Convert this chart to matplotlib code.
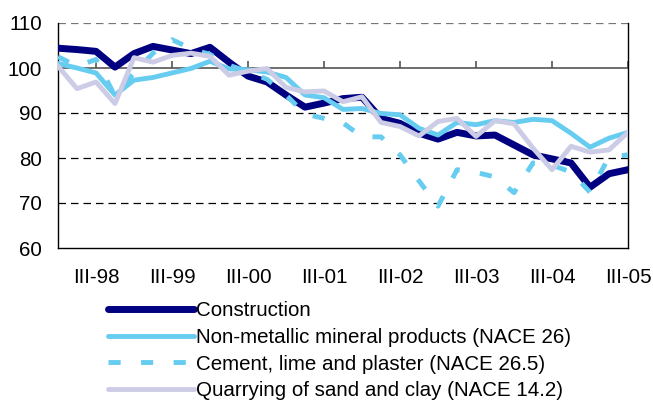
import matplotlib
matplotlib.use("Agg")
import matplotlib.pyplot as plt
from matplotlib.lines import Line2D

plt.rcParams['font.family'] = ['Liberation Sans', 'DejaVu Sans']

# Quarterly indices, I-98 .. III-05
construction = [104.4, 104.1, 103.7, 100.2, 103.2, 104.8, 104.0, 103.2, 104.6, 101.3,
                98.2, 96.9, 94.0, 91.3, 92.2, 93.2, 93.5, 88.8, 87.7, 85.5,
                84.2, 85.7, 84.9, 85.1, 82.9, 80.7, 79.8, 78.9, 73.5, 76.5, 77.4]
non_metallic = [101.0, 100.0, 98.9, 94.0, 97.3, 97.9, 98.9, 99.9, 101.5, 99.8,
                99.6, 99.1, 97.9, 94.0, 93.4, 90.8, 91.0, 89.9, 89.6, 86.6,
                85.1, 87.9, 87.4, 88.3, 87.9, 88.6, 88.3, 85.5, 82.4, 84.4, 85.7]
cement = [102.5, 100.4, 101.9, 93.8, 98.9, 103.3, 106.3, 104.3, 103.0, 100.6,
          99.2, 97.5, 94.0, 89.8, 88.8, 87.8, 84.7, 84.7, 80.7, 74.9,
          69.3, 77.4, 76.8, 75.8, 72.3, 78.9, 78.4, 76.9, 72.4, 80.2, 80.7]
quarrying = [100.4, 95.4, 96.9, 92.1, 102.3, 101.3, 102.8, 103.3, 102.6, 98.4,
             99.3, 99.9, 95.7, 94.7, 94.9, 92.5, 93.6, 87.9, 87.0, 84.9,
             88.1, 88.8, 84.8, 88.3, 87.6, 82.2, 77.4, 82.6, 81.3, 81.8, 85.7]

tick_labels = ['III-98', 'III-99', 'III-00', 'III-01', 'III-02', 'III-03', 'III-04', 'III-05']
series_names = ['Construction', 'Non-metallic mineral products (NACE 26)',
                'Cement, lime and plaster (NACE 26.5)', 'Quarrying of sand and clay (NACE 14.2)']

NAVY = '#000080'
SKY = '#66CCF0'
LAVENDER = '#CCCCE6'
FS = 14.8

fig = plt.figure(figsize=(6.53, 4.0), dpi=100)
ax = fig.add_axes([58 / 653, 152 / 400, 570 / 653, 225 / 400])

x = list(range(len(construction)))
ax.plot(x, construction, color=NAVY, lw=5.0, solid_joinstyle='round', zorder=3)
ax.plot(x, non_metallic, color=SKY, lw=3.5, solid_joinstyle='round', zorder=4)
ax.plot(x, cement, color=SKY, lw=3.5, dashes=(2.5, 4.2), dash_capstyle='butt', zorder=5)
ax.plot(x, quarrying, color=LAVENDER, lw=3.5, solid_joinstyle='round', zorder=6)

ax.set_xlim(0, len(x) - 1)
ax.set_ylim(60, 110)

# horizontal gridlines
ax.set_yticks([60, 70, 80, 90, 100, 110])
ax.tick_params(axis='y', length=0, pad=11.5, labelsize=FS)
for v in [70, 80, 90, 110]:
    ax.axhline(v, color='black' if v != 110 else '#777777', lw=0.9,
               dashes=(6, 4), zorder=1)

# category axis crossing at 100
tick_pos = [2 + 4 * k for k in range(len(tick_labels))]
ax.axhline(100, color='#555555', lw=1.2, zorder=2)
ax.vlines(tick_pos, 100, 101.5, color='#555555', lw=1.2, zorder=2)
ax.set_xticks(tick_pos)
ax.set_xticklabels(tick_labels)
ax.tick_params(axis='x', length=0, pad=14.5, labelsize=FS)

for side in ['left', 'right', 'bottom']:
    ax.spines[side].set_color('black')
    ax.spines[side].set_linewidth(1.0)
ax.spines['top'].set_visible(False)

handles = [
    Line2D([], [], color=NAVY, lw=5.0, solid_capstyle='round'),
    Line2D([], [], color=SKY, lw=3.5, solid_capstyle='round'),
    Line2D([], [], color=SKY, lw=3.5, dashes=(2.5, 4.2), dash_capstyle='butt'),
    Line2D([], [], color=LAVENDER, lw=3.5, solid_capstyle='round'),
]
fig.legend(handles, series_names, loc='upper left', bbox_to_anchor=(108 / 653, 1 - 301 / 400),
           frameon=False, fontsize=FS, handlelength=4.2, handletextpad=0.1,
           labelspacing=0.38, borderpad=0, borderaxespad=0)

fig.savefig('out.png', dpi=100)
